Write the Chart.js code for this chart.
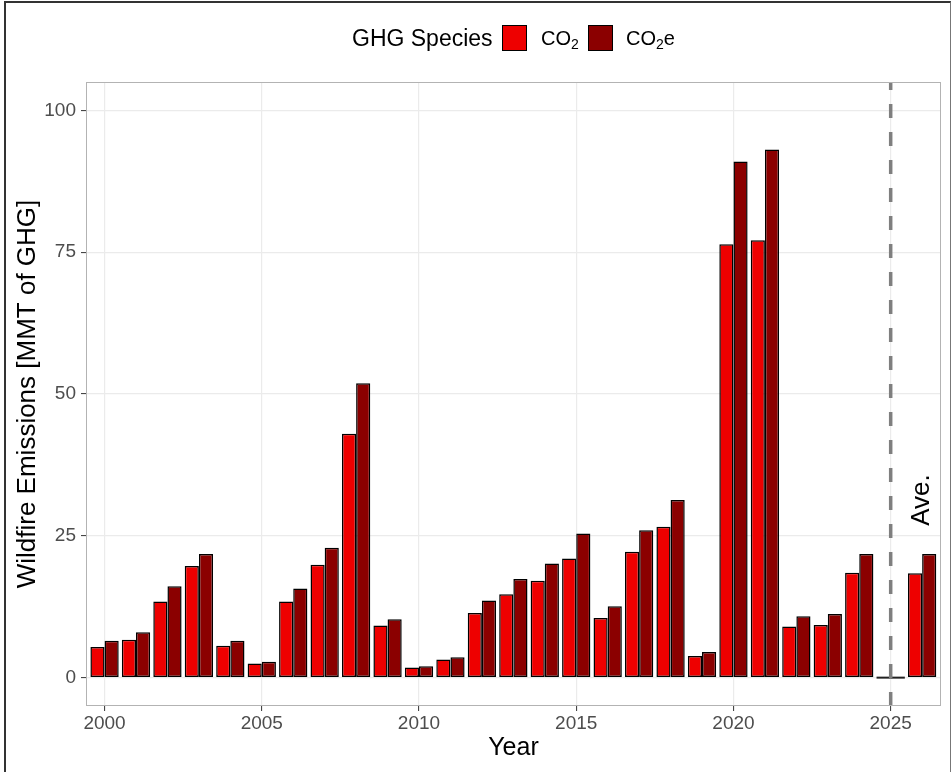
<!DOCTYPE html>
<html>
<head>
<meta charset="utf-8">
<script src="https://cdn.jsdelivr.net/npm/chart.js@4.4.1/dist/chart.umd.min.js"></script>
<style>
  html, body { margin: 0; padding: 0; background: #fff; }
  #wrap { position: relative; width: 951px; height: 772px; overflow: hidden; font-family: "Liberation Sans", Arial, sans-serif; }
  #chart { position: absolute; left: 0; top: 0; }
  #frame { position: absolute; left: 4px; top: 1px; width: 944px; height: 800px; border-left: 2px solid #333; border-top: 2px solid #333; border-right: 1px solid #777; pointer-events: none; }
  .lg { position: absolute; top: 24px; height: 28px; line-height: 28px; color: #000; white-space: nowrap; }
  .lg-title { left: 352px; font-size: 23px; }
  .lg-box { top: 25px; width: 23px; height: 24px; line-height: normal; border: 1.5px solid #000; }
  .lg-label { font-size: 20px; }
  .lg-label sub { font-size: 0.7em; vertical-align: -0.25em; line-height: 0; }
</style>
</head>
<body>
<div id="wrap">
  <canvas id="chart" width="951" height="772"></canvas>
  <div class="lg lg-title">GHG Species</div>
  <div class="lg lg-box" style="left:502px;background:#EE0000"></div>
  <div class="lg lg-label" style="left:541px">CO<sub>2</sub></div>
  <div class="lg lg-box" style="left:588px;background:#8B0000"></div>
  <div class="lg lg-label" style="left:626px">CO<sub>2</sub>e</div>
  <div id="frame"></div>
</div>
<script>
// Wildfire emissions by year (2026 slot holds the average)
const years = [2000, 2001, 2002, 2003, 2004, 2005, 2006, 2007, 2008, 2009,
               2010, 2011, 2012, 2013, 2014, 2015, 2016, 2017, 2018, 2019,
               2020, 2021, 2022, 2023, 2024, 2025, 2026];
const co2 = [5.4, 6.7, 13.4, 19.7, 5.6, 2.5, 13.4, 19.9, 43.0, 9.2,
             1.8, 3.2, 11.4, 14.7, 17.1, 21.0, 10.5, 22.2, 26.6, 3.8,
             76.4, 77.1, 9.0, 9.3, 18.5, 0, 18.4];
const co2e = [6.5, 8.0, 16.1, 21.8, 6.5, 2.8, 15.7, 22.9, 51.9, 10.3,
              2.0, 3.6, 13.6, 17.4, 20.1, 25.4, 12.6, 26.0, 31.3, 4.5,
              91.0, 93.1, 10.8, 11.2, 21.8, 0, 21.8];
const xTicks = [2000, 2005, 2010, 2015, 2020, 2025];
const yTicks = [0, 25, 50, 75, 100];
const seriesNames = ['CO\u2082', 'CO\u2082e'];
const seriesColors = ['#EE0000', '#8B0000'];

const family = '"Liberation Sans", Arial, sans-serif';
const dashYear = 2025;
const aveLabel = { text: 'Ave.', x: 2026, y: 31.3 };

function toPoints(vals) {
  return years.map((yr, i) => ({ x: yr, y: vals[i] }));
}

function makeSet(name, vals, color) {
  return {
    label: name,
    data: toPoints(vals),
    backgroundColor: color,
    borderColor: '#000',
    borderWidth: 1.5,
    borderSkipped: false,
    categoryPercentage: 0.9,
    barPercentage: 1.0
  };
}

// extra drawing: flat outline for zero bars, dashed divider, Ave. label, panel border
const panelPlugin = {
  id: 'panel',
  afterDatasetsDraw(chart) {
    const { ctx, chartArea: a, scales: { x, y } } = chart;
    ctx.save();

    chart.data.datasets.forEach((ds, di) => {
      chart.getDatasetMeta(di).data.forEach((bar, i) => {
        if (ds.data[i].y !== 0) return;
        ctx.beginPath();
        ctx.strokeStyle = '#222';
        ctx.lineWidth = 2;
        ctx.moveTo(bar.x - bar.width / 2, bar.base);
        ctx.lineTo(bar.x + bar.width / 2, bar.base);
        ctx.stroke();
      });
    });

    const px = x.getPixelForValue(dashYear);
    ctx.beginPath();
    ctx.rect(a.left, a.top, a.width, a.height);
    ctx.clip();
    ctx.strokeStyle = '#7f7f7f';
    ctx.lineWidth = 3.5;
    ctx.setLineDash([14, 14]);
    ctx.beginPath();
    ctx.moveTo(px, a.bottom);
    ctx.lineTo(px, a.top);
    ctx.stroke();
    ctx.setLineDash([]);

    ctx.save();
    ctx.translate(x.getPixelForValue(aveLabel.x), y.getPixelForValue(aveLabel.y));
    ctx.rotate(-Math.PI / 2);
    ctx.fillStyle = '#000';
    ctx.font = '26px ' + family;
    ctx.textAlign = 'center';
    ctx.textBaseline = 'middle';
    ctx.fillText(aveLabel.text, 0, 0);
    ctx.restore();

    ctx.restore();
    ctx.save();
    ctx.strokeStyle = '#b3b3b3';
    ctx.lineWidth = 1;
    ctx.strokeRect(a.left + 0.5, a.top + 0.5, a.width - 1, a.height - 1);
    ctx.restore();
  }
};

const ctx = document.getElementById('chart').getContext('2d');
const chart = new Chart(ctx, {
  type: 'bar',
  data: {
    datasets: [
      makeSet(seriesNames[0], co2, seriesColors[0]),
      makeSet(seriesNames[1], co2e, seriesColors[1])
    ]
  },
  options: {
    responsive: false,
    animation: false,
    layout: { padding: { top: 82, right: 10, left: 0, bottom: 0 } },
    plugins: {
      legend: { display: false },
      tooltip: { enabled: false }
    },
    scales: {
      x: {
        type: 'linear',
        min: 1999.41,
        max: 2026.6,
        offset: false,
        afterBuildTicks: s => { s.ticks = xTicks.map(v => ({ value: v })); },
        afterFit: s => { s.height = 66; },
        grid: { color: '#ebebeb', lineWidth: 1.2, tickColor: '#333', tickWidth: 1, tickLength: 5, offset: false },
        border: { display: false },
        ticks: {
          color: '#4d4d4d',
          font: { size: 19, family: family },
          padding: 1,
          maxRotation: 0,
          autoSkip: false,
          callback: v => String(v)
        },
        title: {
          display: true,
          text: 'Year',
          color: '#000',
          font: { size: 25, family: family },
          padding: { top: 0, bottom: 9 }
        }
      },
      y: {
        min: -5,
        max: 105,
        afterBuildTicks: s => { s.ticks = yTicks.map(v => ({ value: v })); },
        afterFit: s => { s.width = 86; },
        grid: { color: '#ebebeb', lineWidth: 1.2, tickColor: '#333', tickWidth: 1, tickLength: 5 },
        border: { display: false },
        ticks: {
          color: '#4d4d4d',
          font: { size: 19, family: family },
          padding: 5,
          callback: v => String(v)
        },
        title: {
          display: true,
          text: 'Wildfire Emissions [MMT of GHG]',
          color: '#000',
          font: { size: 26, family: family },
          padding: { top: 12, bottom: 0 }
        }
      }
    }
  },
  plugins: [panelPlugin]
});
</script>
</body>
</html>
